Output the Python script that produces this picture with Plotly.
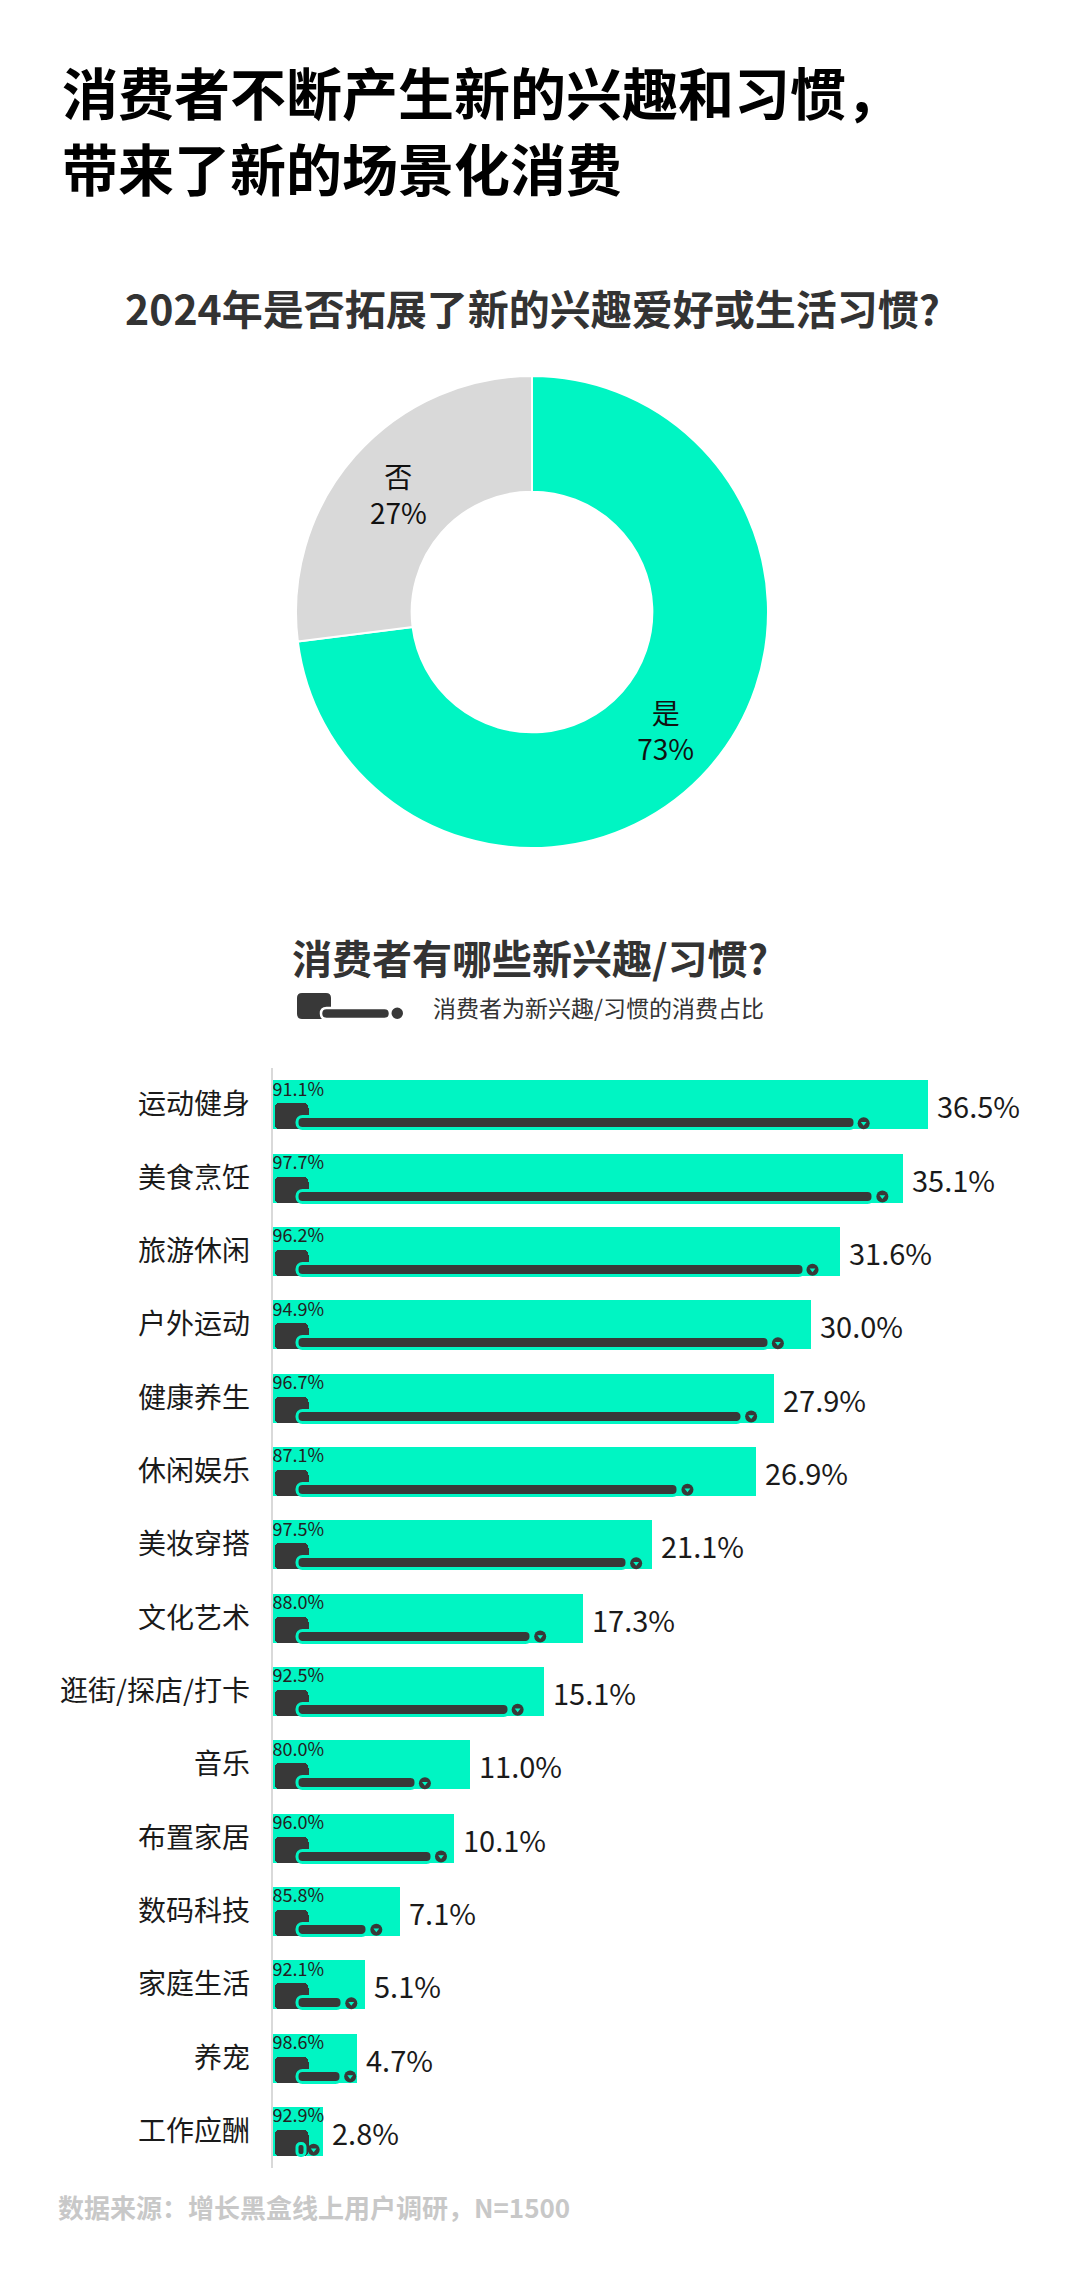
import plotly.graph_objects as go

# ---------------- data ----------------
title_lines = ["消费者不断产生新的兴趣和习惯，", "带来了新的场景化消费"]
pie_title = "2024年是否拓展了新的兴趣爱好或生活习惯?"
pie_labels = ["是", "否"]
pie_values = [73, 27]

bar_title = "消费者有哪些新兴趣/习惯?"
legend_text = "消费者为新兴趣/习惯的消费占比"
source_text = "数据来源：增长黑盒线上用户调研，N=1500"

categories = ["运动健身", "美食烹饪", "旅游休闲", "户外运动", "健康养生",
              "休闲娱乐", "美妆穿搭", "文化艺术", "逛街/探店/打卡", "音乐",
              "布置家居", "数码科技", "家庭生活", "养宠", "工作应酬"]
interest_share = [36.5, 35.1, 31.6, 30.0, 27.9, 26.9, 21.1, 17.3, 15.1, 11.0,
                  10.1, 7.1, 5.1, 4.7, 2.8]
spend_ratio = [91.1, 97.7, 96.2, 94.9, 96.7, 87.1, 97.5, 88.0, 92.5, 80.0,
               96.0, 85.8, 92.1, 98.6, 92.9]

# ---------------- style ----------------
W, H = 1080, 2281
GREEN = "#00F5C3"
DARK = "#383838"
FONT = "Noto Sans CJK SC"

PLOT_LEFT = 272.5          # px
PLOT_TOP, PLOT_BOTTOM = 1068, 2168
X_MAX = 45.0
PX = (W - PLOT_LEFT) / X_MAX   # px per percentage point
ROW = (PLOT_BOTTOM - PLOT_TOP) / len(categories)


def px2x(p):
    return p / W


def px2y(p):
    return 1 - p / H


n = len(categories)
idx = list(range(n))
spend_len = [v * r / 100 for v, r in zip(interest_share, spend_ratio)]

bar_w = 49 / ROW
wal_h = 26 / ROW
thin_h = 12 / ROW
wal_w = 34 / PX
wal_base = 1.5 / PX
thin_base = 25 / PX
thin_end = [s - 14 / PX for s in spend_len]
circ_x = [s - 5.5 / PX for s in spend_len]

fig = go.Figure()

# green main bars
fig.add_trace(go.Bar(
    x=interest_share, y=idx, orientation="h",
    width=bar_w, offset=-bar_w / 2,
    marker=dict(color=GREEN, line=dict(width=0)),
    text=["\u00a0" + f"{v:.1f}%" for v in interest_share],
    textposition="outside", constraintext="none", cliponaxis=False,
    textfont=dict(size=29, color="#1a1a1a", family=FONT),
    hoverinfo="skip",
))

# wallet block
fig.add_trace(go.Bar(
    x=[wal_w] * n, base=[wal_base] * n, y=idx, orientation="h",
    width=wal_h, offset=bar_w / 2 - wal_h,
    marker=dict(color=DARK, cornerradius=5, line=dict(width=0)),
    hoverinfo="skip",
))

# thin spending bar
fig.add_trace(go.Bar(
    x=[e - thin_base for e in thin_end], base=[thin_base] * n, y=idx,
    orientation="h", width=thin_h, offset=bar_w / 2 - thin_h,
    marker=dict(color=DARK, cornerradius="50%", line=dict(color=GREEN, width=3)),
    hoverinfo="skip",
))

# end coin
fig.add_trace(go.Scatter(
    x=circ_x, y=[i + bar_w / 2 - thin_h / 2 for i in idx], mode="markers",
    marker=dict(size=12, color=DARK, line=dict(width=0)), cliponaxis=False,
    hoverinfo="skip",
))
fig.add_trace(go.Scatter(
    x=circ_x, y=[i + bar_w / 2 - thin_h / 2 for i in idx], mode="markers",
    marker=dict(size=5, color=GREEN, symbol="triangle-down", line=dict(width=0)),
    cliponaxis=False, hoverinfo="skip",
))

# ratio text
fig.add_trace(go.Scatter(
    x=[0] * n, y=[i - 13.5 / ROW for i in idx], mode="text",
    text=[f"{r:.1f}%" for r in spend_ratio], textposition="middle right",
    textfont=dict(size=18, color="#222222", family=FONT),
    cliponaxis=False, hoverinfo="skip",
))

# donut
fig.add_trace(go.Pie(
    labels=pie_labels, values=pie_values, sort=False, direction="clockwise",
    rotation=0, hole=0.51,
    marker=dict(colors=[GREEN, "#D9D9D9"], line=dict(color="white", width=2)),
    texttemplate="%{label}<br>%{percent:.0%}", textposition="inside",
    insidetextorientation="horizontal",
    textfont=dict(size=28, color="#111111", family=FONT),
    domain=dict(x=[px2x(296), px2x(768)], y=[px2y(848), px2y(376)]),
    hoverinfo="skip",
))


def rr_path(x0, y0, x1, y1, r):
    pts = [
        ("M", [(x0 + r, y0)]), ("L", [(x1 - r, y0)]), ("Q", [(x1, y0), (x1, y0 + r)]),
        ("L", [(x1, y1 - r)]), ("Q", [(x1, y1), (x1 - r, y1)]),
        ("L", [(x0 + r, y1)]), ("Q", [(x0, y1), (x0, y1 - r)]),
        ("L", [(x0, y0 + r)]), ("Q", [(x0, y0), (x0 + r, y0)]),
    ]
    s = ""
    for cmd, ps in pts:
        s += cmd + " " + " ".join(f"{px2x(a):.5f},{px2y(b):.5f}" for a, b in ps) + " "
    return s + "Z"


shapes = [
    dict(type="path", xref="paper", yref="paper", path=rr_path(297, 993, 331, 1019, 5),
         fillcolor=DARK, line=dict(width=0)),
    dict(type="path", xref="paper", yref="paper", path=rr_path(321, 1008, 390, 1019, 5.5),
         fillcolor=DARK, line=dict(color="white", width=2.5)),
    dict(type="circle", xref="paper", yref="paper",
         x0=px2x(391.5), x1=px2x(403), y0=px2y(1019), y1=px2y(1007.5),
         fillcolor=DARK, line=dict(width=0)),
]

annotations = [
    dict(text=title_lines[0], x=px2x(60), y=px2y(91), xref="paper", yref="paper",
         xanchor="left", yanchor="middle", align="left", showarrow=False,
         font=dict(size=56, color="#000000", family=FONT, weight=700)),
    dict(text=title_lines[1], x=px2x(60), y=px2y(166), xref="paper", yref="paper",
         xanchor="left", yanchor="middle", align="left", showarrow=False,
         font=dict(size=56, color="#000000", family=FONT, weight=700)),
    dict(text=pie_title, x=px2x(532), y=px2y(307), xref="paper", yref="paper",
         xanchor="center", yanchor="middle", showarrow=False,
         font=dict(size=41, color="#333333", family=FONT, weight=700)),
    dict(text=bar_title, x=px2x(530), y=px2y(957), xref="paper", yref="paper",
         xanchor="center", yanchor="middle", showarrow=False,
         font=dict(size=40, color="#333333", family=FONT, weight=700)),
    dict(text=legend_text, x=px2x(431), y=px2y(1007), xref="paper", yref="paper",
         xanchor="left", yanchor="middle", showarrow=False,
         font=dict(size=23, color="#333333", family=FONT)),
    dict(text=source_text, x=px2x(56), y=px2y(2206), xref="paper", yref="paper",
         xanchor="left", yanchor="middle", showarrow=False,
         font=dict(size=26, color="#C8C8C8", family=FONT, weight=700)),
]

fig.update_layout(
    width=W, height=H, margin=dict(l=0, r=0, t=0, b=0),
    paper_bgcolor="white", plot_bgcolor="white",
    font=dict(family=FONT, color="#1a1a1a"),
    barmode="overlay", showlegend=False, bargap=0,
    shapes=shapes, annotations=annotations,
    xaxis=dict(domain=[px2x(PLOT_LEFT), 1], range=[0, X_MAX], showgrid=False,
               zeroline=False, showticklabels=False, showline=False, fixedrange=True),
    yaxis=dict(domain=[px2y(PLOT_BOTTOM), px2y(PLOT_TOP)], range=[n - 0.5, -0.5],
               tickvals=idx, ticktext=categories, showgrid=False, zeroline=False,
               showline=True, linecolor="#D9D9D9", linewidth=2, ticks="",
               ticklabelstandoff=15, tickfont=dict(size=28, color="#1a1a1a", family=FONT),
               fixedrange=True),
)

fig.write_html("out.html", config={"displayModeBar": False},
               post_script="document.body.style.margin='0';")
